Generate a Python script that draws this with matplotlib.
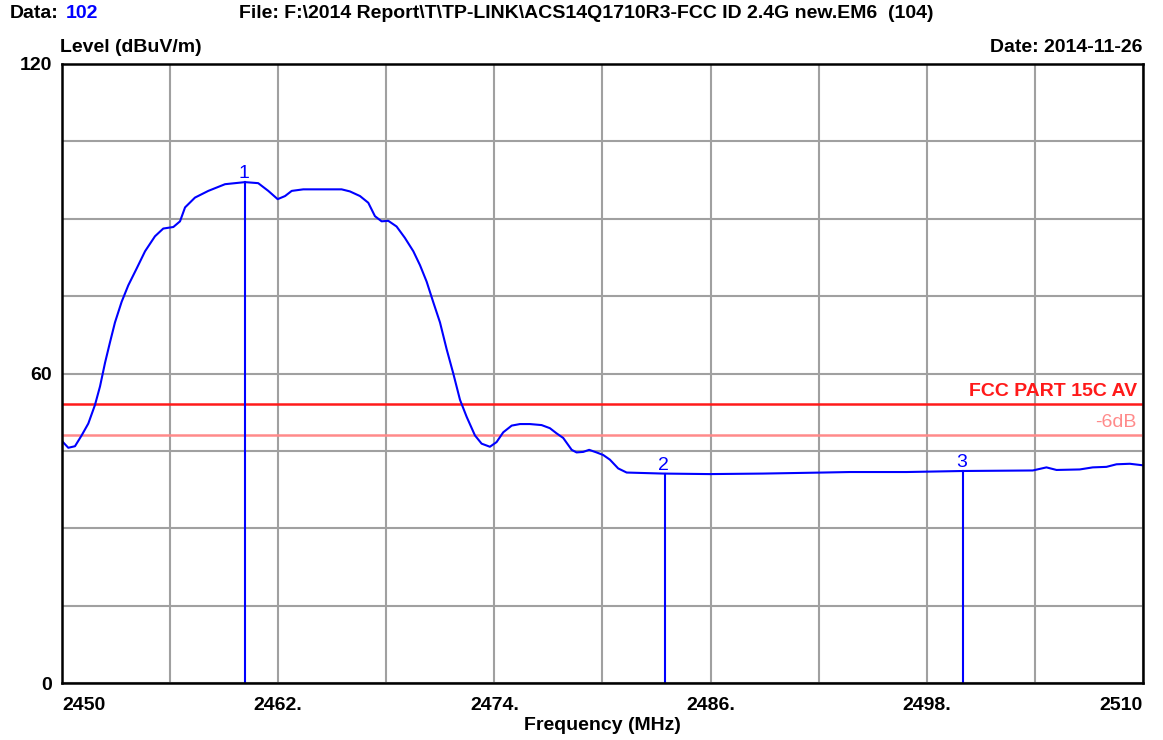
import matplotlib
matplotlib.use("Agg")
import matplotlib.pyplot as plt
from matplotlib.ticker import FixedLocator

#---------------------------------------#
# DATA               #
#---------------------------------------#
# trace frequency points (MHz)
FREQ_MHZ = [2450.0, 2450.35, 2450.72, 2451.09, 2451.46, 2451.83, 2452.11, 2452.39,
            2452.66, 2452.94, 2453.31, 2453.68, 2454.15, 2454.61, 2455.16, 2455.62,
            2456.18, 2456.55, 2456.83, 2457.38, 2458.12, 2459.05, 2460.16, 2460.89,
            2461.45, 2461.97, 2462.38, 2462.75, 2463.39, 2465.52, 2465.98, 2466.54,
            2467.0, 2467.37, 2467.74, 2468.11, 2468.57, 2469.03, 2469.5, 2469.87,
            2470.24, 2470.6, 2470.98, 2471.35, 2471.71, 2472.09, 2472.46, 2472.92,
            2473.29, 2473.75, 2474.12, 2474.49, 2474.96, 2475.42, 2475.97, 2476.62,
            2477.08, 2477.45, 2477.82, 2478.29, 2478.56, 2478.93, 2479.26, 2479.67,
            2480.04, 2480.41, 2480.87, 2481.34, 2483.37, 2485.96, 2488.9, 2492.23,
            2493.73, 2496.87, 2500.02, 2503.88, 2504.64, 2505.2, 2506.49, 2507.21,
            2507.97, 2508.53, 2509.27, 2510.0]
# trace level (dBuV/m)
LEVEL_DBUV = [46.9, 45.6, 45.9, 48.0, 50.3, 53.9, 57.5, 62.1,
              66.0, 69.9, 73.9, 77.1, 80.4, 83.7, 86.6, 88.1,
              88.4, 89.5, 92.2, 94.1, 95.4, 96.7, 97.1, 96.9,
              95.4, 93.8, 94.4, 95.4, 95.7, 95.7, 95.3, 94.4,
              93.1, 90.5, 89.5, 89.6, 88.5, 86.3, 83.7, 81.0,
              77.8, 73.9, 69.9, 64.7, 60.1, 54.9, 51.6, 48.0,
              46.4, 45.8, 46.7, 48.6, 49.9, 50.2, 50.2, 50.0,
              49.4, 48.4, 47.5, 45.2, 44.7, 44.8, 45.2, 44.7,
              44.2, 43.3, 41.6, 40.8, 40.6, 40.5, 40.6, 40.8,
              40.9, 40.9, 41.1, 41.2, 41.8, 41.3, 41.4, 41.8,
              41.9, 42.4, 42.5, 42.2]

# markers
MARKER_NAMES = ["1", "2", "3"]
MARKER_FREQ = [2460.16, 2483.45, 2500.0]
MARKER_LEVEL = [97.1, 40.6, 41.1]

# limit line and margin
LIMIT_NAME = "FCC PART 15C AV"
LIMIT_DBUV = 54
MARGIN_NAME = "-6dB"
MARGIN_DB = 6

# tick labels and grid
X_TICKS = [2450, 2462, 2474, 2486, 2498, 2510]
X_TICK_LABELS = ["2450", "2462.", "2474.", "2486.", "2498.", "2510"]
X_GRID_MINOR = [2456, 2468, 2480, 2492, 2504]
Y_TICKS = [0, 60, 120]
Y_GRID_MINOR = [15, 30, 45, 75, 90, 105]
#---------------------------------------#

#---------------------------------------#
# STYLE                                 #
#---------------------------------------#
FONT = "Liberation Sans"
FS = 14
TRACE_BLUE = "#0000ff"
GRID_GREY = "#a0a0a0"
LIMIT_RED = "#ff1a1a"
MARGIN_PINK = "#ff8a8a"
W, H = 1163, 740
#---------------------------------------#

plt.rcParams["font.family"] = [FONT, "DejaVu Sans"]

fig = plt.figure(figsize=(W / 100, H / 100), dpi=100)
# plot area in pixels: left 62, right 1143, top 64, bottom 683
ax = fig.add_axes([62 / W, 1 - 683 / H, (1143 - 62) / W, (683 - 64) / H])

ax.set_xlim(2450, 2510)
ax.set_ylim(0, 120)

# grid every 6 MHz and 15 dB
ax.xaxis.set_major_locator(FixedLocator(X_TICKS))
ax.xaxis.set_minor_locator(FixedLocator(X_GRID_MINOR))
ax.yaxis.set_major_locator(FixedLocator(Y_TICKS))
ax.yaxis.set_minor_locator(FixedLocator(Y_GRID_MINOR))
ax.grid(True, which="both", color=GRID_GREY, lw=1.5)
ax.set_axisbelow(True)
ax.tick_params(which="both", length=0)
ax.tick_params(axis="x", pad=10)
ax.tick_params(axis="y", pad=7)

ax.set_xticklabels(X_TICK_LABELS, fontsize=FS, fontweight="bold")
for lbl, ha in zip(ax.get_xticklabels(), ["left", "center", "center", "center", "center", "right"]):
    lbl.set_ha(ha)
ax.set_yticklabels([str(v) for v in Y_TICKS], fontsize=FS, fontweight="bold")

for sp in ax.spines.values():
    sp.set_color("black")
    sp.set_linewidth(1.8)

# limit lines
ax.axhline(LIMIT_DBUV, color=LIMIT_RED, lw=1.8)
ax.axhline(LIMIT_DBUV - MARGIN_DB, color=MARGIN_PINK, lw=1.8)
ax.annotate(LIMIT_NAME, xy=(1, LIMIT_DBUV), xycoords=("axes fraction", "data"),
            xytext=(-6, 4), textcoords="offset pixels", ha="right", va="bottom",
            color=LIMIT_RED, fontsize=FS, fontweight="bold")
ax.annotate(MARGIN_NAME, xy=(1, LIMIT_DBUV - MARGIN_DB), xycoords=("axes fraction", "data"),
            xytext=(-6, 4), textcoords="offset pixels", ha="right", va="bottom",
            color=MARGIN_PINK, fontsize=FS)

# trace
ax.plot(FREQ_MHZ, LEVEL_DBUV, color=TRACE_BLUE, lw=1.5)

# markers
for name, f, lv in zip(MARKER_NAMES, MARKER_FREQ, MARKER_LEVEL):
    ax.plot([f, f], [0, lv], color=TRACE_BLUE, lw=1.5)
    ax.annotate(name, xy=(f, lv), xytext=(-1, 4), textcoords="offset pixels",
                ha="center", va="baseline", color=TRACE_BLUE, fontsize=FS)

# axis titles
fig.text(602 / W, 1 - 725 / H, "Frequency (MHz)", ha="center", va="center",
         fontsize=FS, fontweight="bold")
fig.text(60 / W, 1 - 47 / H, "Level (dBuV/m)", ha="left", va="center",
         fontsize=FS, fontweight="bold")
fig.text(1143 / W, 1 - 47 / H, "Date: 2014-11-26", ha="right", va="center",
         fontsize=FS, fontweight="bold")

# header
fig.text(10 / W, 1 - 14 / H, "Data:", ha="left", va="center", fontsize=FS, fontweight="bold")
fig.text(66 / W, 1 - 14 / H, "102", ha="left", va="center", fontsize=FS,
         fontweight="bold", color=TRACE_BLUE)
fig.text(239 / W, 1 - 14 / H,
         "File: F:\\2014 Report\\T\\TP-LINK\\ACS14Q1710R3-FCC ID 2.4G new.EM6  (104)",
         ha="left", va="center", fontsize=FS, fontweight="bold")

fig.savefig("out.png", dpi=100)
